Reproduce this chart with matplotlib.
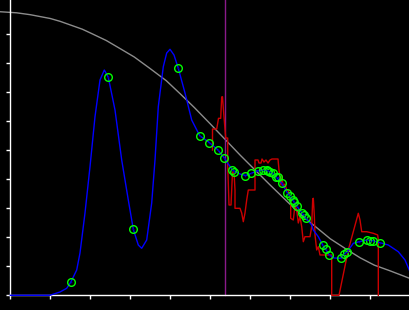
import matplotlib
matplotlib.use("Agg")
import matplotlib.pyplot as plt

# ---- data (axis units: one tick = 1) ----
gray_x = [-0.26, 0.16, 0.5, 1.0, 1.25, 1.8, 2.0, 2.4, 2.75, 3.1, 3.5, 3.9, 4.25, 4.6, 5.0, 5.75,
          6.5, 7.25, 8.0, 8.4, 8.75, 9.1, 9.5, 10.0]
gray_y = [9.779, 9.741, 9.676, 9.545, 9.445, 9.176, 9.048, 8.786, 8.503, 8.217, 7.814, 7.40, 6.945,
          6.476, 5.910, 4.828, 3.797, 2.797, 1.948, 1.59, 1.290, 1.04, 0.841, 0.576]

blue_x = [0, 0.99, 1.2425, 1.41, 1.5175, 1.66, 1.7425, 1.8675, 1.9925, 2.1175, 2.2425, 2.35, 2.45,
          2.6175, 2.785, 2.95, 3.075, 3.2, 3.285, 3.41, 3.535, 3.6175, 3.70, 3.825, 3.91, 3.9925,
          4.0925, 4.20, 4.3675, 4.535, 4.735, 4.975, 5.1925, 5.35, 5.45, 5.555, 5.7425, 5.88, 6.03,
          6.185, 6.325, 6.4925, 6.6425, 6.785, 6.925, 7.06, 7.16, 7.285, 7.3925, 7.535, 7.575, 7.70,
          7.81, 7.885, 7.975, 8.0925, 8.26, 8.3425, 8.425, 8.575, 8.725, 8.91, 9.06, 9.2425, 9.45,
          9.70, 9.8675, 9.9925]
blue_y = [0, 0, 0.114, 0.241, 0.469, 0.872, 1.459, 2.838, 4.434, 6.159, 7.424, 7.769, 7.517,
          6.390, 4.666, 3.286, 2.276, 1.734, 1.621, 1.907, 3.183, 4.666, 6.503, 7.883, 8.355, 8.483,
          8.286, 7.828, 6.976, 6.045, 5.503, 5.269, 5.010, 4.734, 4.528, 4.321, 4.183, 4.131, 4.207,
          4.297, 4.321, 4.262, 4.090, 3.862, 3.538, 3.286, 3.079, 2.848, 2.655, 2.424, 2.252, 2.021,
          1.734, 1.586, 1.390, 1.286, 1.276, 1.424, 1.503, 1.793, 1.848, 1.907, 1.883, 1.814, 1.734,
          1.503, 1.217, 0.814]

pts_x = [1.525, 2.45, 3.075, 4.20, 4.735, 4.975, 5.1925, 5.35, 5.555, 5.60, 5.88, 6.03, 6.185,
         6.325, 6.41, 6.455, 6.4925, 6.575, 6.6425, 6.70, 6.785, 6.925, 6.9925, 7.06, 7.0925, 7.16,
         7.285, 7.3425, 7.3925, 7.81, 7.885, 7.975, 8.26, 8.3425, 8.425, 8.725, 8.91, 8.9925, 9.06,
         9.2425]
pts_y = [0.469, 7.517, 2.276, 7.828, 5.503, 5.269, 5.010, 4.734, 4.321, 4.262, 4.131, 4.207, 4.297,
         4.321, 4.321, 4.303, 4.262, 4.207, 4.090, 4.069, 3.862, 3.538, 3.424, 3.286, 3.228, 3.079,
         2.848, 2.769, 2.655, 1.734, 1.586, 1.390, 1.276, 1.424, 1.503, 1.848, 1.907, 1.883, 1.883,
         1.814]

red_x = [5.055, 5.055, 5.16, 5.205, 5.26, 5.285, 5.305, 5.325, 5.385, 5.435, 5.435, 5.4675, 5.5175,
         5.555, 5.5925, 5.6175, 5.6175, 5.7425, 5.785, 5.825, 5.8675, 5.91, 5.95, 6.1175, 6.1175,
         6.1925, 6.2175, 6.2675, 6.2925, 6.3425, 6.3925, 6.4425, 6.4925, 6.5425, 6.6925, 6.7175,
         6.7425, 6.7675, 6.7925, 6.8175, 6.8675, 6.91, 6.9425, 7.01, 7.01, 7.075, 7.1175, 7.16, 7.20,
         7.2425, 7.285, 7.325, 7.3675, 7.4925, 7.535, 7.56, 7.575, 7.60, 7.6175, 7.66, 7.70, 7.7425,
         8.035, 8.035, 8.2175, 8.45, 8.70, 8.7425, 8.785, 8.91, 9.075, 9.185, 9.20, 9.20]
red_y = [5.010, 5.734, 5.734, 6.103, 6.103, 6.838, 6.848, 6.459, 5.424, 5.424, 4.493, 3.114, 3.114,
         4.252, 4.252, 3.631, 3.0, 3.0, 2.838, 2.538, 2.838, 3.286, 3.631, 3.631, 4.666,
         4.666, 4.562, 4.562, 4.700, 4.597, 4.666, 4.562, 4.666, 4.700, 4.700, 4.321,
         4.045, 3.803, 4.114, 3.769, 3.838, 3.631, 3.631, 3.286, 2.655, 2.597, 3.114, 2.941, 2.493,
         2.710, 2.366, 1.848, 2.021, 2.021, 2.366, 3.321, 3.345, 2.769, 2.079, 1.562, 1.676, 1.390,
         1.390, 0, 0, 1.562, 2.828, 2.597, 2.193, 2.193, 2.138, 2.079, 1.907, 0]

marker_x = 5.375

x_ticks = list(range(10))
y_ticks = list(range(10))
x_lim = (-0.2575, 9.9925)
y_lim = (-0.507, 10.183)

fig = plt.figure(figsize=(4.1, 3.1), dpi=100, facecolor="black")
ax = fig.add_axes([0, 0, 1, 1], facecolor="black")
ax.set_xlim(*x_lim)
ax.set_ylim(*y_lim)

ax.plot(gray_x, gray_y, color="#8c8c8c", lw=1.0, zorder=2)
ymin_frac = (0 - y_lim[0]) / (y_lim[1] - y_lim[0])
ax.axvline(marker_x, ymin=ymin_frac, ymax=1, color="#8a1a8a", lw=1.0, zorder=2)
ax.plot(red_x, red_y, color="#cc0000", lw=1.0, zorder=3)
ax.plot(blue_x, blue_y, color="#0000ff", lw=1.0, zorder=4)
ax.plot(pts_x, pts_y, "o", mfc="none", mec="#00ff00", ms=5.5, mew=1.0, zorder=5)
ax.plot(pts_x, pts_y, "o", color="#0000aa", ms=1.2, mew=0, zorder=6)

for s in ["top", "right"]:
    ax.spines[s].set_visible(False)
ax.spines["left"].set_position(("data", 0))
ax.spines["bottom"].set_position(("data", 0))
ax.spines["left"].set_bounds(0, y_lim[1])
ax.spines["bottom"].set_bounds(0, x_lim[1])
for s in ["left", "bottom"]:
    ax.spines[s].set_color("white")
    ax.spines[s].set_linewidth(1.0)
ax.set_xticks(x_ticks)
ax.set_yticks(y_ticks)
ax.tick_params(colors="white", length=3, width=1, direction="out",
               labelbottom=False, labelleft=False)

fig.savefig("out.png", dpi=100, facecolor="black")
